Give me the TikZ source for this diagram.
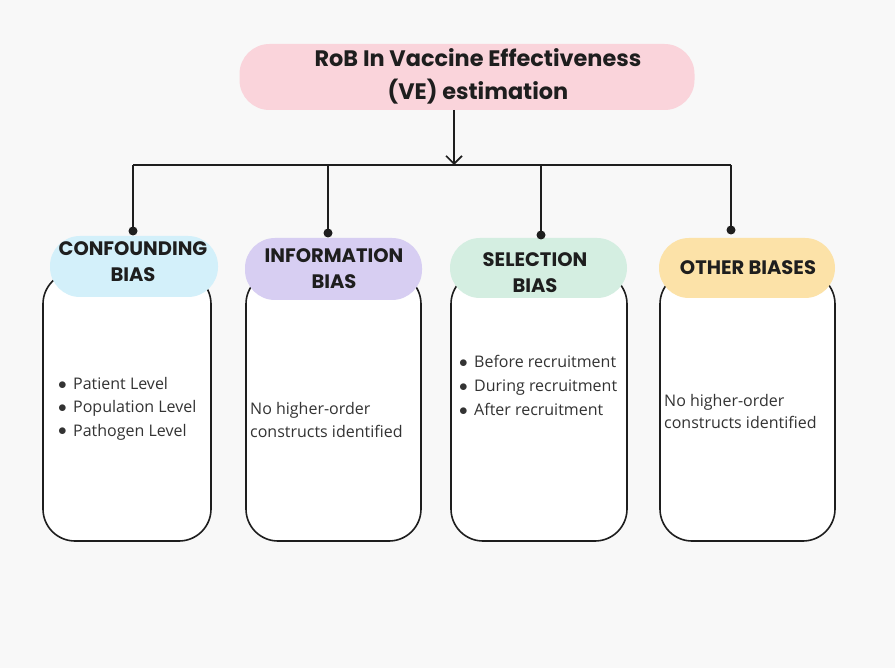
\documentclass[tikz,border=0pt]{standalone}
\usepackage{fontspec}
\setmainfont{Open Sans}
\newfontfamily\headfont{Poppins}
\usetikzlibrary{arrows.meta}
\definecolor{bg}{HTML}{F8F8F8}
\definecolor{titlepink}{HTML}{FAD4DB}
\definecolor{cblue}{HTML}{D3F0FA}
\definecolor{clav}{HTML}{D7CEF2}
\definecolor{cmint}{HTML}{D4EEE1}
\definecolor{cpeach}{HTML}{FCE2A8}
\definecolor{ink}{HTML}{1E1E1E}
\definecolor{bodytext}{HTML}{333333}
\newcommand{\bul}{\makebox[15pt][l]{\raisebox{0.3pt}{$\bullet$}}}
\tikzset{
  pill/.style={draw=none, rounded corners=30pt, inner sep=0pt},
  bodybox/.style={draw=ink, line width=1.6pt, fill=white, rounded corners=32pt, inner sep=0pt},
  headtext/.style={font=\headfont\bfseries\fontsize{19.5}{26}\selectfont, align=center, text=ink, inner sep=0pt},
  bodyline/.style={font=\fontsize{16}{23}\selectfont, text=bodytext, align=left, anchor=west,
    inner sep=0pt, text height=11.5pt, text depth=3.5pt},
  wire/.style={draw=ink, line width=1.8pt},
  dotend/.style={fill=ink, draw=none, circle, minimum size=9pt, inner sep=0pt}
}
\begin{document}
\begin{tikzpicture}[x=1pt,y=-1pt]
  \fill[bg] (0,0) rectangle (895,668);
  \useasboundingbox (0,0) rectangle (895,668);

  % top title
  \node[pill, fill=titlepink, minimum width=455pt, minimum height=66pt] (title) at (467,77) {};
  \node[headtext, font=\headfont\bfseries\fontsize{22.4}{33}\selectfont] (titletext) at (478,76.5) {RoB In Vaccine Effectiveness\\(VE) estimation};

  % white content boxes (drawn before the headers that cover their tops)
  \node[bodybox, minimum width=168pt, minimum height=269pt] (b1) at (127,406.5) {};
  \node[bodybox, minimum width=175pt, minimum height=269pt] (b2) at (333.5,406.5) {};
  \node[bodybox, minimum width=176pt, minimum height=269pt] (b3) at (539,406.5) {};
  \node[bodybox, minimum width=175pt, minimum height=269pt] (b4) at (747.5,406.5) {};

  % category headers
  \node[pill, fill=cblue, minimum width=168pt, minimum height=61pt] (h1) at (134,266.5) {};
  \node[pill, fill=clav, minimum width=177pt, minimum height=62pt] (h2) at (333.5,269) {};
  \node[pill, fill=cmint, minimum width=177pt, minimum height=60pt] (h3) at (538.5,268) {};
  \node[pill, fill=cpeach, minimum width=176pt, minimum height=60pt] (h4) at (747,268) {};
  \node[headtext] (t1) at (133,261.5) {CONFOUNDING\\BIAS};
  \node[headtext] (t2) at (334,268.5) {INFORMATION\\BIAS};
  \node[headtext] (t3) at (535,273) {SELECTION\\BIAS};
  \node[headtext] (t4) at (748,268) {OTHER BIASES};

  % connectors
  \coordinate (stem) at (454,110);
  \coordinate (hub) at (454,165);
  \coordinate (barL) at (133,165);
  \coordinate (barB) at (328,165);
  \coordinate (barC) at (541,165);
  \coordinate (barR) at (731,165);
  \coordinate (d1) at (133,231);
  \coordinate (d2) at (328,233);
  \coordinate (d3) at (541,235);
  \coordinate (d4) at (731,230);
  \draw[wire] (barL) -- (barR);
  \draw[wire, -{Straight Barb[length=8pt,width=16pt,line width=1.6pt]}] (stem) -- (hub);
  \draw[wire] (barL) -- (d1);
  \draw[wire] (barB) -- (d2);
  \draw[wire] (barC) -- (d3);
  \draw[wire] (barR) -- (d4);
  \node[dotend] (e1) at (d1) {};
  \node[dotend] (e2) at (d2) {};
  \node[dotend] (e3) at (d3) {};
  \node[dotend] (e4) at (d4) {};

  % box contents
  \node[bodyline] (p1) at (58,386) {\bul Patient Level};
  \node[bodyline] (p2) at (58,409) {\bul Population Level};
  \node[bodyline] (p3) at (58,432) {\bul Pathogen Level};
  \node[bodyline] (n1) at (250,411) {No higher-order};
  \node[bodyline] (n2) at (250,434) {constructs identified};
  \node[bodyline] (s1) at (459,364) {\bul Before recruitment};
  \node[bodyline] (s2) at (459,388) {\bul During recruitment};
  \node[bodyline] (s3) at (459,412) {\bul After recruitment};
  \node[bodyline] (o1) at (664,403) {No higher-order};
  \node[bodyline] (o2) at (664,425) {constructs identified};
\end{tikzpicture}
\end{document}
